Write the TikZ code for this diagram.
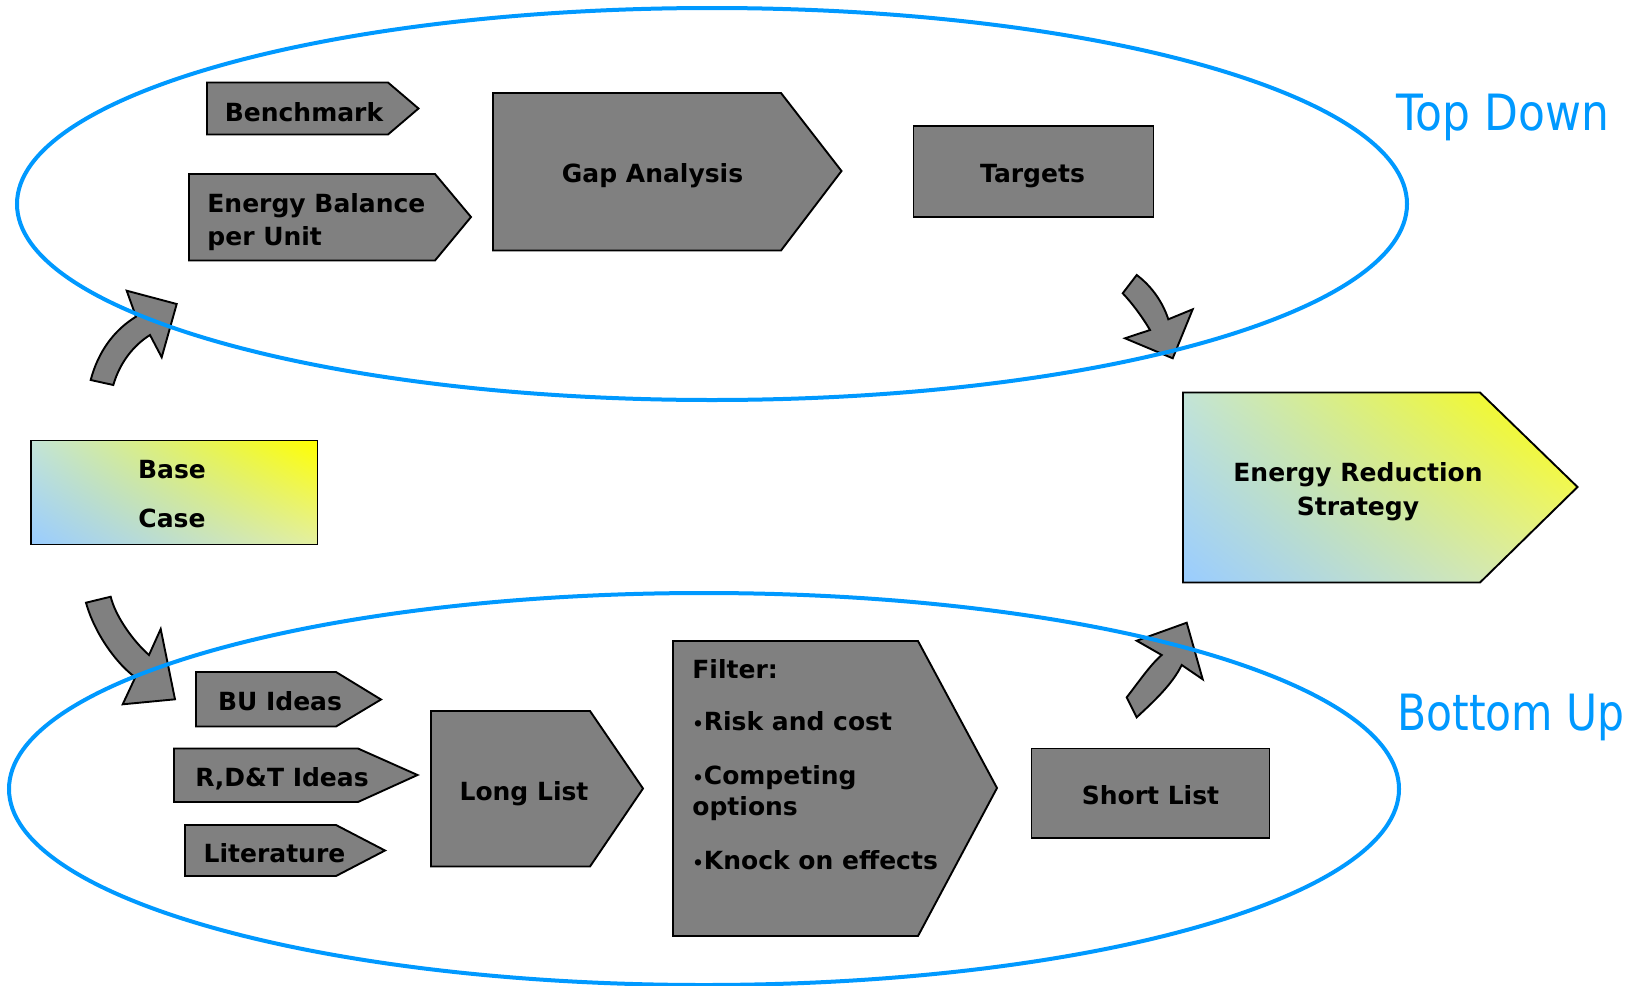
\documentclass[tikz,border=0pt]{standalone}
\usepackage{fontspec}
\setmainfont{DejaVu Sans}
\newfontfamily\lblfont[FakeStretch=0.85]{DejaVu Sans}
\newfontfamily\lblfontw[FakeStretch=0.88]{DejaVu Sans}
\usetikzlibrary{shadings}
\definecolor{boxgray}{RGB}{128,128,128}
\definecolor{ringblue}{RGB}{0,153,255}
\definecolor{gblue}{RGB}{153,204,255}
\definecolor{gyellow}{RGB}{255,255,0}
\definecolor{gul}{RGB}{195,228,215}
\definecolor{glr}{RGB}{228,240,160}
\begin{document}
\begin{tikzpicture}[x=0.5pt,y=-0.5pt,
  graybox/.style={fill=boxgray,draw=black,line width=0.95pt,line join=miter},
  gradbox/.style={draw=black,line width=0.95pt,lower left=gblue,upper right=gyellow,upper left=gul,lower right=glr},
  ring/.style={draw=ringblue,line width=2pt},
  bendarrow/.style={fill=boxgray,draw=black,line width=0.95pt,line join=miter},
  txt/.style={inner sep=0pt,font=\bfseries\fontsize{12.5}{15}\selectfont},
  lbl/.style={inner sep=0pt,text=ringblue,font=\lblfont\fontsize{25}{30}\selectfont}]
\useasboundingbox[fill=white] (0,0) rectangle (1637,985);

% top group boxes
\draw[graybox] (207,82.5) -- (388,82.5) -- (418.5,108.5) -- (388,134.5) -- (207,134.5) -- cycle;
\draw[graybox] (189,174) -- (435,174) -- (471,217) -- (435,260.5) -- (189,260.5) -- cycle;
\draw[graybox] (493,93) -- (781,93) -- (841.5,171) -- (781,250.5) -- (493,250.5) -- cycle;
\draw[graybox] (913.5,126) rectangle (1153.5,217);

% gradient boxes
\shadedraw[gradbox] (31,440.5) rectangle (317.5,544.5);
\shadedraw[gradbox] (1183,392.5) -- (1480,392.5) -- (1577.5,487) -- (1480,582.5) -- (1183,582.5) -- cycle;

% bottom group boxes
\draw[graybox] (196,672) -- (336,672) -- (381,699.5) -- (336,726.5) -- (196,726.5) -- cycle;
\draw[graybox] (174,748.5) -- (358,748.5) -- (417.5,775) -- (358,802) -- (174,802) -- cycle;
\draw[graybox] (185,825) -- (336,825) -- (385,850.5) -- (336,876) -- (185,876) -- cycle;
\draw[graybox] (431,711) -- (590,711) -- (643,788.5) -- (590,866.5) -- (431,866.5) -- cycle;
\draw[graybox] (673,641) -- (918,641) -- (997,788) -- (918,936) -- (673,936) -- cycle;
\draw[graybox] (1031.5,748.5) rectangle (1269.5,838);

% curved arrows
\draw[bendarrow] (90.7,380) .. controls (98,352) and (114,330) .. (136,316.7) -- (126.7,290.7) -- (176.7,304) -- (161.7,357.3) -- (150,335) .. controls (134,345) and (120,362) .. (113.3,385) -- cycle;
\draw[bendarrow] (1122.7,293.3) -- (1136.7,275) .. controls (1150,285) and (1162,300) .. (1168.3,319.3) -- (1192.7,309.3) -- (1172.7,358.3) -- (1125,338.3) -- (1150,330) .. controls (1143,318) and (1132,303) .. (1122.7,293.3) -- cycle;
\draw[bendarrow] (86,602.7) -- (110.7,596.7) .. controls (115,615) and (132,640) .. (149,655) -- (160.7,629) -- (175,699.3) -- (122.7,704.3) -- (135.3,677.3) .. controls (118,665) and (95,635) .. (86,602.7) -- cycle;
\draw[bendarrow] (1126.7,697.3) .. controls (1138,683) and (1150,665) .. (1161.7,655) -- (1136.7,640.7) -- (1186.7,622.7) -- (1202.7,679.3) -- (1181.7,665) .. controls (1172,685) and (1152,703) .. (1136.7,717.3) -- cycle;

% rings
\draw[ring] (712,204) ellipse [x radius=347.5pt, y radius=98pt];
\draw[ring] (704,789) ellipse [x radius=347.5pt, y radius=98pt];

% texts
\node[txt,anchor=base] (bench) at (304,121) {Benchmark};
\node[txt,anchor=base west] (eb1) at (207,212) {Energy Balance};
\node[txt,anchor=base west] (eb2) at (207,245) {per Unit};
\node[txt,anchor=base] (gap) at (652.5,182.5) {Gap Analysis};
\node[txt,anchor=base] (targets) at (1032.5,182.5) {Targets};
\node[txt,anchor=base] (base1) at (172,478) {Base};
\node[txt,anchor=base] (base2) at (172,527) {Case};
\node[txt,anchor=base] (ers1) at (1358,481) {Energy Reduction};
\node[txt,anchor=base] (ers2) at (1358,515) {Strategy};
\node[txt,anchor=base] (bu) at (280,710.5) {BU Ideas};
\node[txt,anchor=base] (rdt) at (282,786.5) {R,D\&T Ideas};
\node[txt,anchor=base] (lit) at (274.5,862.5) {Literature};
\node[txt,anchor=base] (long) at (524,800.5) {Long List};
\node[txt,anchor=base west] (f1) at (692,678) {Filter:};
\node[txt,anchor=base west] (f2) at (692,730) {{\fontsize{9}{9}\selectfont •}Risk and cost};
\node[txt,anchor=base west] (f3) at (692,784) {{\fontsize{9}{9}\selectfont •}Competing};
\node[txt,anchor=base west] (f4) at (692,815) {options};
\node[txt,anchor=base west] (f5) at (692,869) {{\fontsize{9}{9}\selectfont •}Knock on effects};
\node[txt,anchor=base] (short) at (1150.5,804) {Short List};
\node[lbl,font=\lblfontw\fontsize{25}{30}\selectfont,anchor=base west] (topdown) at (1396,130) {Top Down};
\node[lbl,anchor=base west] (bottomup) at (1397,730) {Bottom Up};
\end{tikzpicture}
\end{document}
